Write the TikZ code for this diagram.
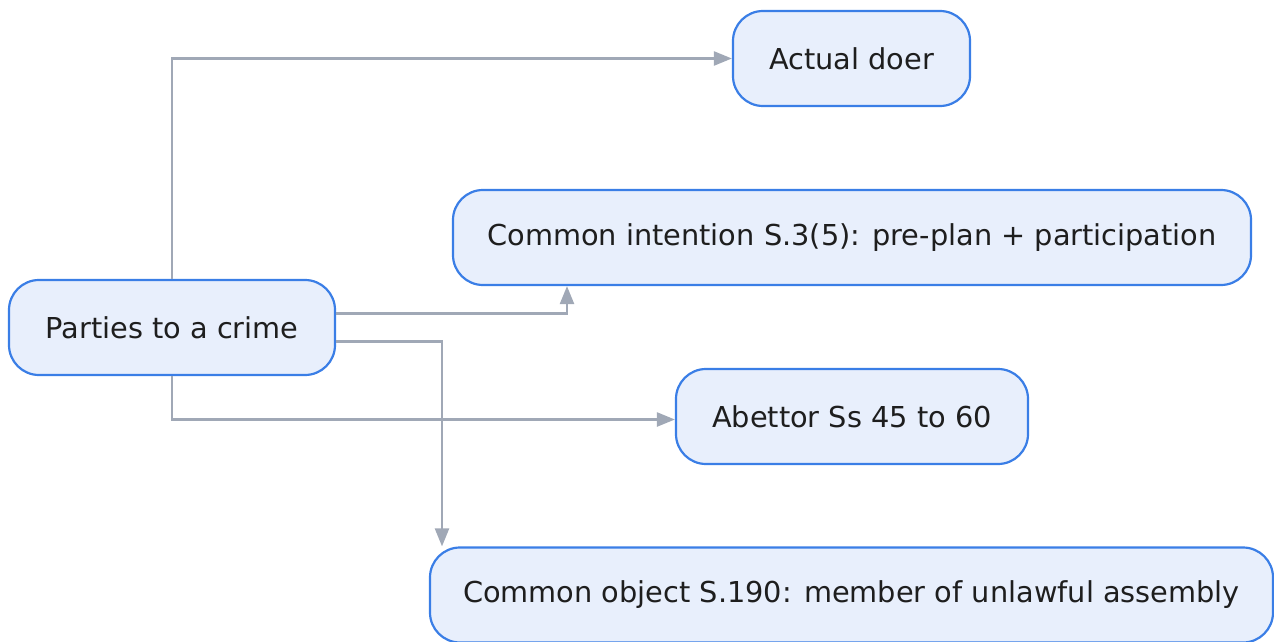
\documentclass[tikz,border=0pt]{standalone}
\usepackage{fontspec}
\setmainfont{DejaVu Sans}
\usetikzlibrary{arrows.meta}
\definecolor{boxfill}{HTML}{E8EFFC}
\definecolor{boxline}{HTML}{3A7EE6}
\definecolor{edgegray}{HTML}{A0A8B6}
\definecolor{textdark}{HTML}{1E1E1E}
\begin{document}
\begin{tikzpicture}[x=0.5pt,y=-0.5pt,>={Triangle[length=9pt,width=7pt]}]
\tikzset{PartyBox/.style = {draw=boxline, fill=boxfill, line width=1.1pt, rounded corners=15pt,
  minimum height=47.5pt, inner sep=0pt, text=textdark, font=\fontsize{14.4}{17}\selectfont},
  EdgeStyle/.style = {->, edgegray, line width=1.2pt}}
\useasboundingbox (0,0) rectangle (1274,642);
\node[PartyBox, minimum width=163pt](pc) at (172,327.5){Parties to a crime};
\node[PartyBox, minimum width=118.5pt](ad) at (851.5,58.5){Actual doer};
\node[PartyBox, minimum width=399pt](ci) at (852,237.5){Common intention S.3(5): pre-plan + participation};
\node[PartyBox, minimum width=176pt](ab) at (852,416.5){Abettor Ss 45 to 60};
\node[PartyBox, minimum width=421.5pt](co) at (851.5,595){Common object S.190: member of unlawful assembly};
\draw[EdgeStyle] (pc.north) |- (ad.west);
\draw[EdgeStyle] ([yshift=7pt]pc.east) -| ([xshift=-142.5pt]ci.south);
\draw[EdgeStyle] ([yshift=-7pt]pc.east) -| ([xshift=-204.75pt]co.north);
\draw[EdgeStyle] (pc.south) |- ([yshift=-1.5pt]ab.west);
\end{tikzpicture}
\end{document}
